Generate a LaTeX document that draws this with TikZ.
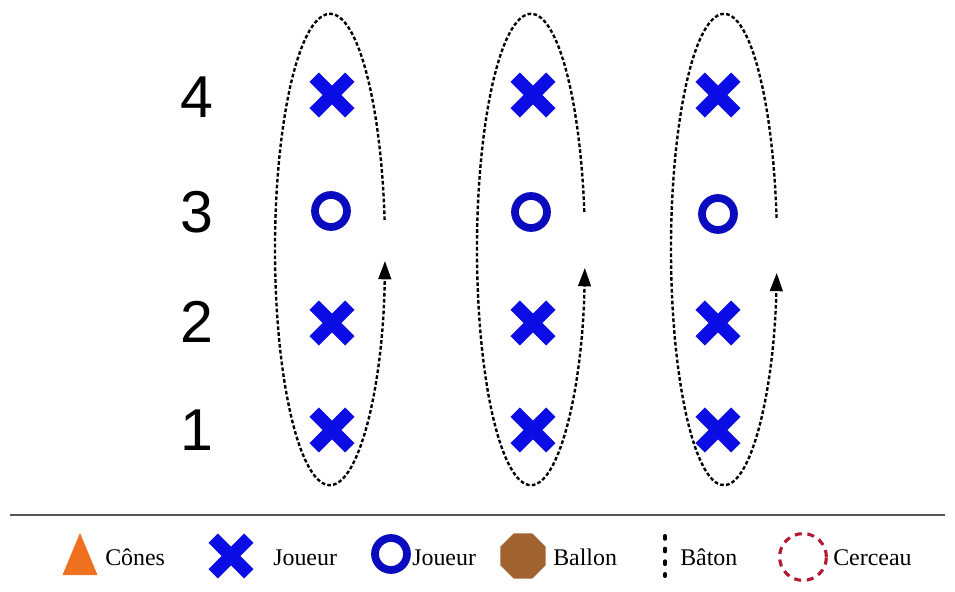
\documentclass[tikz,border=0pt]{standalone}
\usepackage{fontspec}
\setmainfont{Liberation Serif}
\newfontfamily\rowfont{Liberation Sans}
\usepackage{tikz}
\usetikzlibrary{shapes.geometric,arrows.meta,positioning}

\definecolor{crossblue}{RGB}{12,12,228}
\definecolor{ringblue}{RGB}{10,10,190}
\definecolor{conecol}{RGB}{238,112,32}
\definecolor{ballcol}{RGB}{160,98,46}
\definecolor{hoopcol}{RGB}{178,25,48}
\definecolor{rulecol}{RGB}{85,85,85}

\begin{document}
\begin{tikzpicture}[
    x=0.025cm, y=0.025cm,
    cross/.style={minimum size=1.15cm, inner sep=0pt, path picture={
        \draw[crossblue, line width=9.5pt]
            ([shift={(0.13cm,0.13cm)}]path picture bounding box.south west) -- ([shift={(-0.13cm,-0.13cm)}]path picture bounding box.north east)
            ([shift={(0.13cm,-0.13cm)}]path picture bounding box.north west) -- ([shift={(-0.13cm,0.13cm)}]path picture bounding box.south east);}},
    ring/.style={circle, draw=ringblue, line width=5.5pt, minimum size=0.8cm, inner sep=0pt},
    rownum/.style={font=\rowfont\fontsize{42}{48}\selectfont, inner sep=0pt},
    lapline/.style={line width=1.7pt, dash pattern=on 2.6pt off 1.6pt, -{Triangle[length=13pt,width=9pt]}},
    legend/.style={font=\fontsize{17}{20}\selectfont, inner sep=0pt, anchor=base west}
]
\useasboundingbox (0,0) rectangle (955,592);

% row numbers
\node[rownum] (n4) at (197,495) {4};
\node[rownum] (n3) at (197,380) {3};
\node[rownum] (n2) at (197,270) {2};
\node[rownum] (n1) at (197,162) {1};

% first column
\node[cross] (a4) at (332,497) {};
\node[ring]  (a3) at (331,381) {};
\node[cross] (a2) at (332,269) {};
\node[cross] (a1) at (332,162) {};

% second column
\node[cross] (b4) at (533,497) {};
\node[ring]  (b3) at (531,380) {};
\node[cross] (b2) at (533,269) {};
\node[cross] (b1) at (533,162) {};

% third column
\node[cross] (c4) at (718,497) {};
\node[ring]  (c3) at (718,378) {};
\node[cross] (c2) at (718,269) {};
\node[cross] (c1) at (718,162) {};

% rotation paths
\coordinate (oa) at (330,342.5);
\coordinate (ob) at (531,342.5);
\coordinate (oc) at (724,342.5);
\draw[lapline] (oa) ++(7.2:1.375cm and 5.89cm) arc[start angle=7.2, end angle=357.2, x radius=1.375cm, y radius=5.89cm];
\draw[lapline] (ob) ++(9.2:1.35cm and 5.89cm) arc[start angle=9.2, end angle=355.5, x radius=1.35cm, y radius=5.89cm];
\draw[lapline] (oc) ++(7.7:1.325cm and 5.89cm) arc[start angle=7.7, end angle=354.3, x radius=1.325cm, y radius=5.89cm];

% legend
\coordinate (ruleL) at (10,77);
\coordinate (ruleR) at (945,77);
\draw[rulecol, line width=1.4pt] (ruleL) -- (ruleR);

\node[regular polygon, regular polygon sides=3, minimum size=1.01cm, inner sep=0pt, fill=conecol, yscale=1.39] (cone) at (80,31) {};
\node[legend] (conetxt) at (105,26) {Cônes};
\node[cross] (xkey) at (231,36) {};
\node[legend] (xtxt) at (273,26) {Joueur};
\node[ring] (okey) at (391,38) {};
\node[legend] (otxt) at (412,26) {Joueur};
\node[regular polygon, regular polygon sides=8, minimum size=1.22cm, inner sep=0pt, fill=ballcol] (ball) at (523,36) {};
\node[legend] (balltxt) at (553,26) {Ballon};
\coordinate (batonT) at (665,56);
\coordinate (batonB) at (665,16);
\draw[line width=2.8pt, line cap=round, dash pattern=on 2pt off 7pt] (batonT) -- (batonB);
\node[legend] (batontxt) at (680,26) {Bâton};
\node[circle, draw=hoopcol, line width=2.2pt, dash pattern=on 5pt off 4pt, minimum size=1.17cm, inner sep=0pt] (hoop) at (803,35) {};
\node[legend] (hooptxt) at (833,26) {Cerceau};
\end{tikzpicture}
\end{document}
